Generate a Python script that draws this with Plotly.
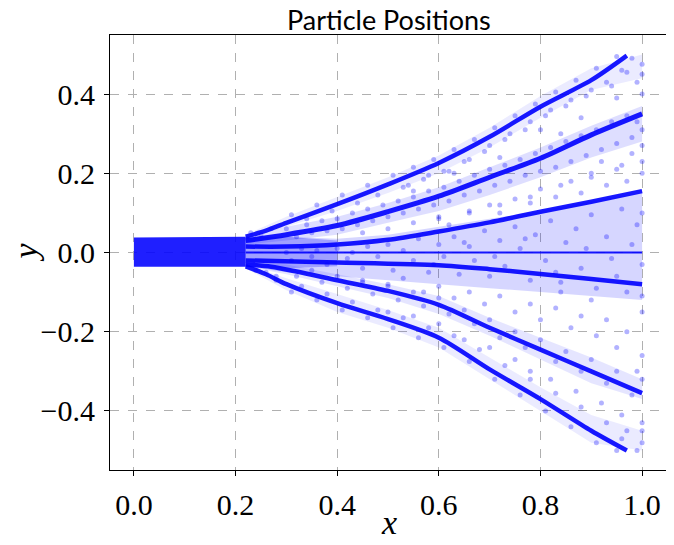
import plotly.graph_objects as go

# dense streams of particles (x, y)
stream_a_x = [0.22, 0.26, 0.3, 0.4, 0.5, 0.6, 0.7, 0.8, 0.9, 0.97]
stream_a_y = [0.04, 0.055, 0.075, 0.122, 0.172, 0.226, 0.292, 0.368, 0.435, 0.497]
stream_b_x = [0.22, 0.3, 0.4, 0.5, 0.6, 0.7, 0.8, 0.9, 1.0]
stream_b_y = [0.03, 0.045, 0.068, 0.103, 0.142, 0.19, 0.238, 0.297, 0.35]
stream_c_x = [0.22, 0.3, 0.4, 0.5, 0.6, 0.7, 0.8, 0.9, 1.0]
stream_c_y = [0.015, 0.015, 0.02, 0.032, 0.053, 0.076, 0.103, 0.128, 0.155]
stream_d_x = [0.22, 1.0]
stream_d_y = [0.0, 0.0]
stream_e_x = [0.22, 0.4, 0.6, 0.7, 0.8, 0.9, 1.0]
stream_e_y = [-0.02, -0.025, -0.032, -0.042, -0.054, -0.067, -0.08]
stream_f_x = [0.22, 0.27, 0.32, 0.4, 0.5, 0.6, 0.7, 0.8, 0.9, 1.0]
stream_f_y = [-0.03, -0.036, -0.048, -0.07, -0.097, -0.132, -0.19, -0.245, -0.3, -0.355]
stream_g_x = [0.22, 0.26, 0.3, 0.4, 0.5, 0.6, 0.7, 0.8, 0.9, 0.97]
stream_g_y = [-0.035, -0.055, -0.08, -0.128, -0.168, -0.215, -0.295, -0.37, -0.45, -0.5]

# initial packed band of particles
band_x = [0.0, 0.22]
band_top = [0.038, 0.04]
band_bottom = [-0.036, -0.036]

# faint density envelopes of the spread
haze_x = [0.22, 0.3, 0.4, 0.5, 0.6, 0.7, 0.8, 0.9, 1.0]
center_hi = [0.04, 0.04, 0.035, 0.045, 0.065, 0.085, 0.105, 0.13, 0.15]
center_lo = [-0.035, -0.05, -0.06, -0.07, -0.08, -0.09, -0.1, -0.11, -0.12]
b_hi = [0.04, 0.065, 0.09, 0.125, 0.165, 0.215, 0.265, 0.32, 0.37]
b_lo = [0.02, 0.03, 0.045, 0.075, 0.105, 0.145, 0.19, 0.24, 0.28]
a_hi = [0.045, 0.09, 0.14, 0.19, 0.245, 0.315, 0.395, 0.465, 0.5]
a_lo = [0.035, 0.065, 0.105, 0.15, 0.2, 0.265, 0.34, 0.41, 0.44]
f_hi = [-0.025, -0.03, -0.055, -0.08, -0.11, -0.165, -0.215, -0.265, -0.32]
f_lo = [-0.035, -0.055, -0.085, -0.115, -0.155, -0.21, -0.27, -0.33, -0.37]
g_hi = [-0.03, -0.065, -0.105, -0.145, -0.19, -0.265, -0.34, -0.41, -0.45]
g_lo = [-0.04, -0.095, -0.15, -0.19, -0.24, -0.32, -0.4, -0.48, -0.5]
core_x = [0.22, 0.3, 0.4]
core_hi = [0.04, 0.04, 0.03]
core_lo = [-0.035, -0.04, -0.035]

# scattered particles
near_a_x = [0.31, 0.34, 0.36, 0.39, 0.41, 0.44, 0.46, 0.48, 0.51, 0.53, 0.55, 0.57, 0.59, 0.61,
            0.63, 0.65, 0.67, 0.69, 0.71, 0.73, 0.75, 0.77, 0.79, 0.81, 0.83, 0.85, 0.87, 0.89,
            0.91, 0.93, 0.95, 0.96, 0.98, 1.0, 1.0, 0.99, 0.97, 0.94, 0.9, 0.86, 0.82, 0.78,
            0.74, 0.7, 0.66, 0.62, 0.58, 0.54]
near_a_y = [0.095, 0.085, 0.12, 0.105, 0.145, 0.125, 0.17, 0.145, 0.195, 0.165, 0.215, 0.185, 0.235, 0.205,
            0.26, 0.23, 0.285, 0.255, 0.315, 0.285, 0.345, 0.31, 0.375, 0.345, 0.405, 0.37, 0.435, 0.395,
            0.465, 0.43, 0.495, 0.46, 0.49, 0.475, 0.45, 0.43, 0.455, 0.42, 0.41, 0.385, 0.36, 0.33,
            0.3, 0.27, 0.235, 0.205, 0.195, 0.17]
near_b_x = [0.3, 0.32, 0.34, 0.35, 0.37, 0.38, 0.4, 0.41, 0.43, 0.44, 0.46, 0.47, 0.49, 0.5,
            0.52, 0.53, 0.55, 0.56, 0.58, 0.59, 0.61, 0.62, 0.64, 0.65, 0.67, 0.68, 0.7, 0.71,
            0.73, 0.74, 0.76, 0.77, 0.79, 0.8, 0.82, 0.83, 0.85, 0.86, 0.88, 0.89, 0.91, 0.92,
            0.94, 0.95, 0.97, 0.98, 1.0, 1.0, 0.99, 0.96, 0.9, 0.84, 0.78, 0.72, 0.66, 0.6,
            0.55, 0.63, 0.72, 0.8, 0.88, 0.95, 1.0, 0.84]
near_b_y = [0.06, 0.04, 0.07, 0.05, 0.08, 0.055, 0.085, 0.06, 0.1, 0.07, 0.11, 0.08, 0.12, 0.09,
            0.13, 0.1, 0.14, 0.11, 0.155, 0.12, 0.165, 0.13, 0.18, 0.145, 0.195, 0.155, 0.21, 0.17,
            0.22, 0.18, 0.235, 0.195, 0.25, 0.205, 0.265, 0.215, 0.28, 0.23, 0.295, 0.245, 0.31, 0.26,
            0.33, 0.275, 0.345, 0.29, 0.31, 0.27, 0.33, 0.22, 0.2, 0.17, 0.14, 0.12, 0.1, 0.085,
            0.155, 0.2, 0.24, 0.31, 0.34, 0.39, 0.4, 0.3]
mid_x = [0.45, 0.5, 0.55, 0.6, 0.62, 0.66, 0.7, 0.72, 0.75, 0.78, 0.8, 0.83, 0.86, 0.88,
         0.9, 0.93, 0.95, 0.97, 1.0, 1.0, 0.98, 0.92,
         0.3, 0.31, 0.33, 0.35, 0.36, 0.38, 0.4, 0.42, 0.43, 0.45, 0.46, 0.48, 0.5, 0.51,
         0.53, 0.55, 0.56, 0.58, 0.6, 0.61, 0.63, 0.64, 0.66, 0.67, 0.69, 0.7, 0.72, 0.73,
         0.75, 0.76, 0.78, 0.79, 0.81, 0.82, 0.84, 0.85, 0.87, 0.88, 0.9, 0.91, 0.93, 0.94,
         0.96, 0.97, 0.99, 1.0, 1.0, 1.0, 0.98, 0.95, 0.89, 0.83, 0.77, 0.71, 0.65, 0.59,
         0.23, 0.25, 0.27, 0.24, 0.26, 0.28]
mid_y = [0.05, 0.06, 0.075, 0.09, 0.07, 0.105, 0.12, 0.1, 0.135, 0.125, 0.16, 0.14, 0.18, 0.15,
         0.19, 0.17, 0.21, 0.18, 0.2, 0.23, 0.25, 0.23,
         0.0, -0.02, 0.01, -0.01, 0.005, -0.03, 0.01, -0.015, 0.0, -0.04, 0.015, -0.01, 0.02, -0.045,
         0.005, -0.02, 0.035, -0.05, 0.02, -0.01, 0.04, -0.055, 0.015, -0.02, 0.055, -0.06, 0.03, -0.035,
         0.065, 0.01, -0.07, 0.045, -0.02, 0.08, -0.075, 0.025, 0.06, -0.04, 0.095, -0.09, 0.04, -0.015,
         0.11, -0.1, 0.07, -0.03, 0.1, -0.11, 0.02, -0.06, 0.01, -0.05, 0.035, -0.01, 0.025, -0.03,
         0.05, 0.045, 0.06, -0.045, -0.05, -0.06]
low_x = [0.45, 0.5, 0.53, 0.57, 0.6, 0.63, 0.66, 0.69, 0.72, 0.75, 0.78, 0.8, 0.83, 0.86,
         0.88, 0.91, 0.93, 0.95, 0.97, 1.0, 1.0, 0.99, 0.9, 0.84,
         0.32, 0.35, 0.37, 0.4, 0.42, 0.45, 0.47, 0.5, 0.52, 0.55, 0.57, 0.6, 0.62, 0.65,
         0.67, 0.7, 0.72, 0.75, 0.77, 0.8, 0.83, 0.85, 0.88, 0.9, 0.93, 0.95, 0.98, 1.0,
         0.5, 0.55, 0.6, 0.65, 0.7, 0.75, 0.78, 0.82, 0.87, 0.92, 0.96, 1.0, 0.97,
         0.28, 0.31, 0.33, 0.36, 0.38, 0.41, 0.43, 0.46, 0.48, 0.51, 0.53, 0.56, 0.58, 0.61,
         0.63, 0.66, 0.68, 0.71, 0.73, 0.76, 0.78, 0.81, 0.83, 0.86, 0.88, 0.91, 0.93, 0.95,
         0.96, 1.0, 1.0, 0.99]
low_y = [-0.07, -0.08, -0.065, -0.1, -0.085, -0.115, -0.1, -0.13, -0.11, -0.15, -0.13, -0.17, -0.14, -0.19,
         -0.16, -0.21, -0.17, -0.24, -0.2, -0.26, -0.15, -0.3, -0.12, -0.1,
         -0.06, -0.045, -0.075, -0.06, -0.09, -0.075, -0.105, -0.085, -0.12, -0.1, -0.135, -0.115, -0.155, -0.145,
         -0.18, -0.17, -0.215, -0.2, -0.24, -0.22, -0.275, -0.25, -0.3, -0.27, -0.33, -0.3, -0.36, -0.32,
         -0.15, -0.16, -0.18, -0.22, -0.24, -0.27, -0.3, -0.32, -0.35, -0.38, -0.41, -0.43, -0.45,
         -0.07, -0.1, -0.085, -0.12, -0.105, -0.145, -0.125, -0.165, -0.145, -0.19, -0.165, -0.215, -0.19, -0.24,
         -0.21, -0.275, -0.245, -0.32, -0.285, -0.36, -0.32, -0.4, -0.355, -0.44, -0.39, -0.48, -0.43, -0.5,
         -0.47, -0.48, -0.45, -0.5]

x_ticks = [0.0, 0.2, 0.4, 0.6, 0.8, 1.0]
x_labels = ["0.0", "0.2", "0.4", "0.6", "0.8", "1.0"]
y_ticks = [-0.4, -0.2, 0.0, 0.2, 0.4]
y_labels = ["\u22120.4", "\u22120.2", "0.0", "0.2", "0.4"]

BLUE = "rgb(0,0,255)"
fig = go.Figure()

# density envelopes
for hx, hi, lo, alpha in [(haze_x, center_hi, center_lo, 0.16), (haze_x, b_hi, b_lo, 0.13),
                          (haze_x, a_hi, a_lo, 0.08), (haze_x, f_hi, f_lo, 0.1),
                          (haze_x, g_hi, g_lo, 0.08), (core_x, core_hi, core_lo, 0.25)]:
    fig.add_trace(go.Scatter(
        x=hx + hx[::-1], y=hi + lo[::-1], mode="none",
        fill="toself", fillcolor=f"rgba(0,0,255,{alpha})", hoverinfo="skip"))

fig.add_trace(go.Scatter(
    x=band_x + band_x[::-1], y=band_top + band_bottom[::-1], mode="none",
    fill="toself", fillcolor="rgba(0,0,255,0.88)", hoverinfo="skip"))

cloud_x = near_a_x + near_b_x + mid_x + low_x
cloud_y = near_a_y + near_b_y + mid_y + low_y
fig.add_trace(go.Scatter(
    x=cloud_x, y=cloud_y, mode="markers",
    marker=dict(size=5, color=BLUE, opacity=0.3, line=dict(width=0))))

for sx, sy, w in [(stream_a_x, stream_a_y, 4.5), (stream_b_x, stream_b_y, 5),
                  (stream_c_x, stream_c_y, 4.5), (stream_d_x, stream_d_y, 2),
                  (stream_e_x, stream_e_y, 4.5), (stream_f_x, stream_f_y, 4.5),
                  (stream_g_x, stream_g_y, 4.5)]:
    fig.add_trace(go.Scatter(
        x=sx, y=sy, mode="lines",
        line=dict(color=BLUE, width=w, shape="spline", smoothing=0.8),
        opacity=0.9))

axis_common = dict(
    showline=True, linecolor="black", linewidth=1.2, mirror=True,
    ticks="outside", ticklen=5, tickcolor="black", ticklabelstandoff=3,
    showgrid=True, gridcolor="#b0b0b0", gridwidth=0.8, griddash="dash",
    zeroline=False, automargin=False,
    tickfont=dict(family="Liberation Serif", size=30, color="black"),
)

# the page body has an 8px margin, so the figure is sized to fit inside the window
fig.update_layout(
    width=666, height=537,
    margin=dict(l=102, r=7, t=27, b=75),
    paper_bgcolor="white", plot_bgcolor="white",
    showlegend=False,
    xaxis=dict(range=[-0.047, 1.049], tickvals=x_ticks, ticktext=x_labels, **axis_common),
    yaxis=dict(range=[-0.549, 0.549], tickvals=y_ticks, ticktext=y_labels, **axis_common),
    annotations=[
        dict(text="Particle Positions", x=0.5, xref="paper", y=1, yref="paper",
             xanchor="center", yanchor="bottom", yshift=-3, showarrow=False,
             font=dict(family="Lato", size=27, color="black")),
        dict(text="<i>x</i>", x=0.5, xref="paper", y=0, yref="paper", yanchor="middle",
             yshift=-52, showarrow=False,
             font=dict(family="Liberation Serif", size=34, color="black")),
        dict(text="<i>y</i>", x=0, xref="paper", y=0.5, yref="paper", xanchor="center",
             xshift=-85, textangle=-90, showarrow=False,
             font=dict(family="Liberation Serif", size=34, color="black")),
    ],
)

fig.write_html("out.html")
